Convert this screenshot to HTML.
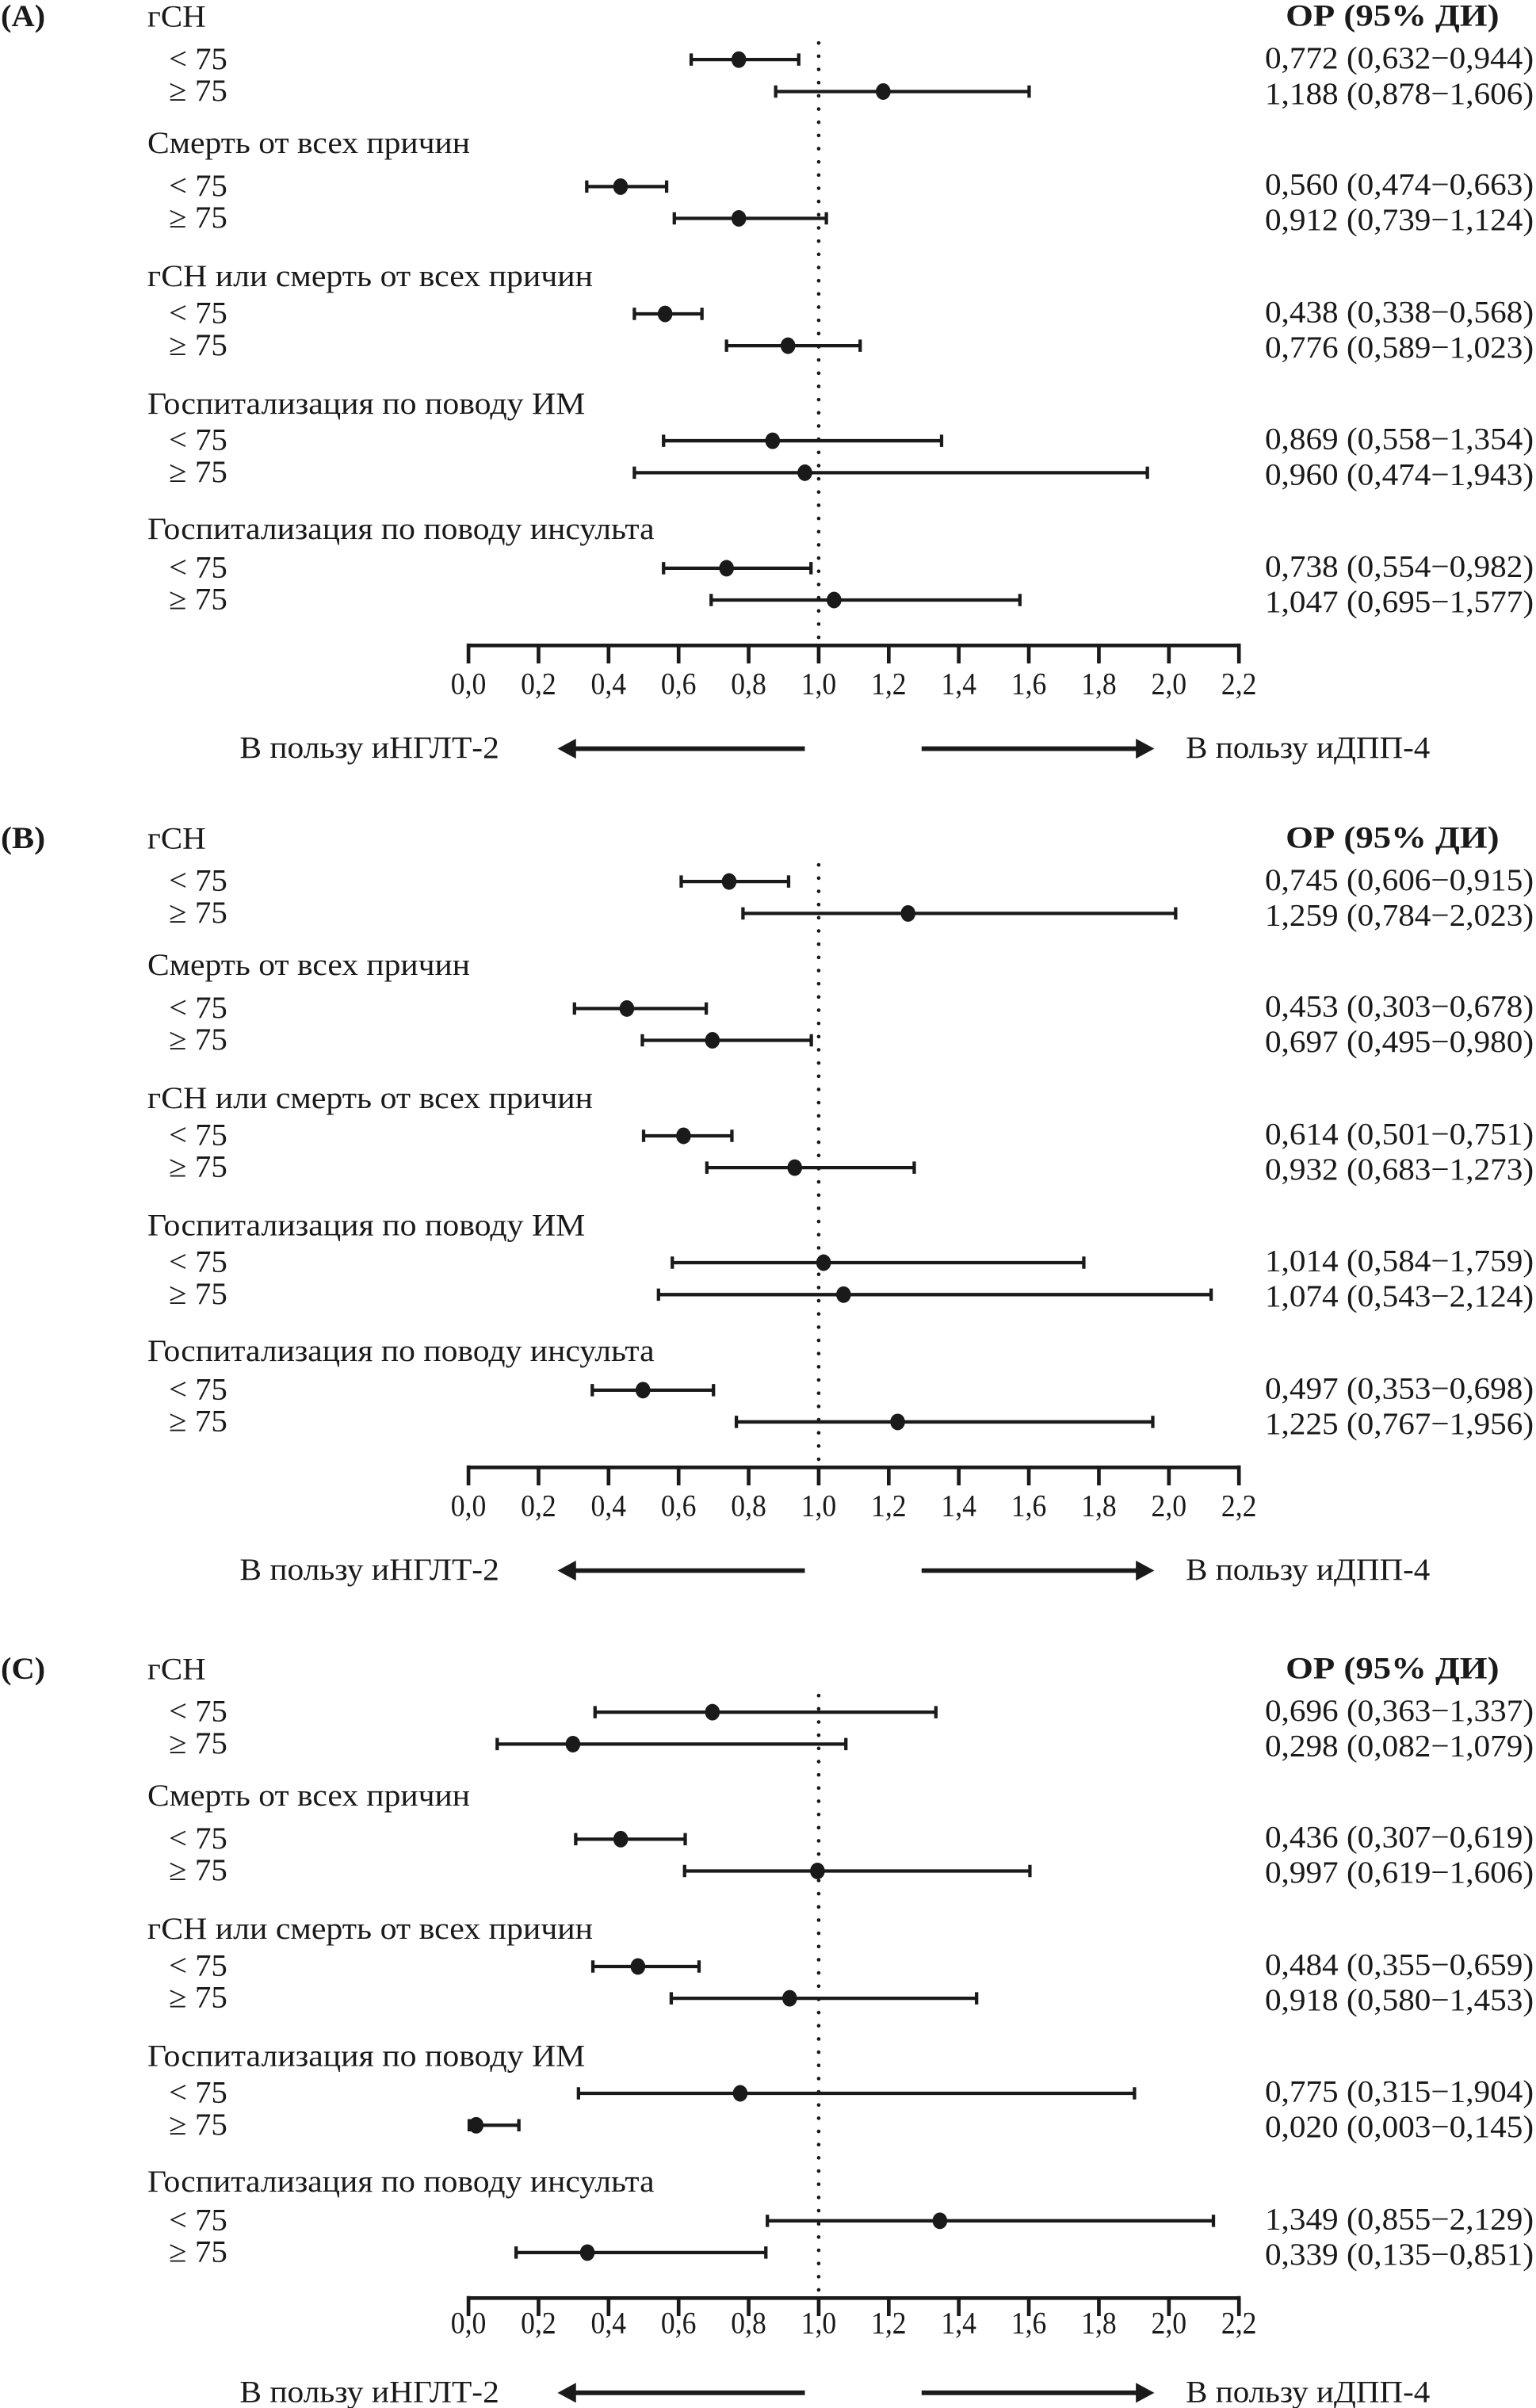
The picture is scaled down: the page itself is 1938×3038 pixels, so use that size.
<!DOCTYPE html>
<html><head><meta charset="utf-8"><style>
html,body{margin:0;padding:0;background:#fff;}
svg{display:block;}
text{font-family:"Liberation Serif","Times New Roman","Noto Serif CJK SC",serif;fill:#1a1a1a;font-size:20px;}
.b{font-weight:bold;}
.ci{stroke:#1a1a1a;stroke-width:2.2;fill:none;}
.ax{stroke:#1a1a1a;stroke-width:2.4;fill:none;}
.dot{fill:#1a1a1a;}
</style></head><body>
<svg width="1938" height="3038" viewBox="0 0 1000 1568" preserveAspectRatio="none" xmlns="http://www.w3.org/2000/svg">
<defs>
<g id="frame">
  <text x="96" y="17.2" textLength="38" lengthAdjust="spacingAndGlyphs">гСН</text>
  <text class="b" x="837" y="16.8" textLength="139" lengthAdjust="spacingAndGlyphs">ОР (95% ДИ)</text>
  <text x="110" y="44.8" textLength="38" lengthAdjust="spacingAndGlyphs">&lt; 75</text>
  <text x="110" y="65.6" textLength="38" lengthAdjust="spacingAndGlyphs">≥ 75</text>
  <text x="96" y="99.6" textLength="210" lengthAdjust="spacingAndGlyphs">Смерть от всех причин</text>
  <text x="110" y="127.5" textLength="38" lengthAdjust="spacingAndGlyphs">&lt; 75</text>
  <text x="110" y="148.2" textLength="38" lengthAdjust="spacingAndGlyphs">≥ 75</text>
  <text x="96" y="186.4" textLength="290" lengthAdjust="spacingAndGlyphs">гСН или смерть от всех причин</text>
  <text x="110" y="210.4" textLength="38" lengthAdjust="spacingAndGlyphs">&lt; 75</text>
  <text x="110" y="231.1" textLength="38" lengthAdjust="spacingAndGlyphs">≥ 75</text>
  <text x="96" y="269.3" textLength="285" lengthAdjust="spacingAndGlyphs">Госпитализация по поводу ИМ</text>
  <text x="110" y="293" textLength="38" lengthAdjust="spacingAndGlyphs">&lt; 75</text>
  <text x="110" y="313.8" textLength="38" lengthAdjust="spacingAndGlyphs">≥ 75</text>
  <text x="96" y="351" textLength="330" lengthAdjust="spacingAndGlyphs">Госпитализация по поводу инсульта</text>
  <text x="110" y="376" textLength="38" lengthAdjust="spacingAndGlyphs">&lt; 75</text>
  <text x="110" y="396.7" textLength="38" lengthAdjust="spacingAndGlyphs">≥ 75</text>
  <line x1="533" y1="28" x2="533" y2="418" stroke="#1a1a1a" stroke-width="2.4" stroke-linecap="round" stroke-dasharray="0 8.6"/>
  <path class="ax" d="M305 420.3 H806.6 M305 419 V432 M350.6 420 V432 M396.2 420 V432 M441.8 420 V432 M487.4 420 V432 M533 420 V432 M578.6 420 V432 M624.2 420 V432 M669.8 420 V432 M715.4 420 V432 M761 420 V432 M806.6 419 V432"/>
</g>
<g id="ticklab">
  <g text-anchor="middle">
  <text x="305" y="452" textLength="23" lengthAdjust="spacingAndGlyphs">0,0</text>
  <text x="350.6" y="452" textLength="23" lengthAdjust="spacingAndGlyphs">0,2</text>
  <text x="396.2" y="452" textLength="23" lengthAdjust="spacingAndGlyphs">0,4</text>
  <text x="441.8" y="452" textLength="23" lengthAdjust="spacingAndGlyphs">0,6</text>
  <text x="487.4" y="452" textLength="23" lengthAdjust="spacingAndGlyphs">0,8</text>
  <text x="533" y="452" textLength="23" lengthAdjust="spacingAndGlyphs">1,0</text>
  <text x="578.6" y="452" textLength="23" lengthAdjust="spacingAndGlyphs">1,2</text>
  <text x="624.2" y="452" textLength="23" lengthAdjust="spacingAndGlyphs">1,4</text>
  <text x="669.8" y="452" textLength="23" lengthAdjust="spacingAndGlyphs">1,6</text>
  <text x="715.4" y="452" textLength="23" lengthAdjust="spacingAndGlyphs">1,8</text>
  <text x="761" y="452" textLength="23" lengthAdjust="spacingAndGlyphs">2,0</text>
  <text x="806.6" y="452" textLength="23" lengthAdjust="spacingAndGlyphs">2,2</text>
  </g>
</g>
<g id="arrows">
  <text x="156" y="493.5" textLength="169" lengthAdjust="spacingAndGlyphs">В пользу иНГЛТ-2</text>
  <text x="772" y="493.5" textLength="159" lengthAdjust="spacingAndGlyphs">В пользу иДПП-4</text>
  <path d="M524 487.5 H372" stroke="#1a1a1a" stroke-width="3"/>
  <path d="M363 487.5 L375 481 L375 494 Z" fill="#1a1a1a"/>
  <path d="M600 487.5 H742" stroke="#1a1a1a" stroke-width="3"/>
  <path d="M751.5 487.5 L739.5 481 L739.5 494 Z" fill="#1a1a1a"/>
</g>
</defs>

<!-- Panel A -->
<g>
  <text class="b" x="0.5" y="17" textLength="29" lengthAdjust="spacingAndGlyphs">(A)</text>
  <use href="#frame"/><use href="#ticklab"/><use href="#arrows"/>
  <g class="ci">
    <path d="M450 38.8H520M450 34.8v8M520 34.8v8"/>
    <path d="M505 59.6H670M505 55.6v8M670 55.6v8"/>
    <path d="M382 121.5H434M382 117.5v8M434 117.5v8"/>
    <path d="M439 142.2H538M439 138.2v8M538 138.2v8"/>
    <path d="M413 204.4H457M413 200.4v8M457 200.4v8"/>
    <path d="M473 225.1H560M473 221.1v8M560 221.1v8"/>
    <path d="M432 287H613M432 283v8M613 283v8"/>
    <path d="M413 307.8H747M413 303.8v8M747 303.8v8"/>
    <path d="M432 370H528M432 366v8M528 366v8"/>
    <path d="M463 390.7H664M463 386.7v8M664 386.7v8"/>
  </g>
  <g class="dot">
    <ellipse cx="481" cy="38.8" rx="4.8" ry="5.4"/>
    <ellipse cx="575" cy="59.6" rx="4.8" ry="5.4"/>
    <ellipse cx="404" cy="121.5" rx="4.8" ry="5.4"/>
    <ellipse cx="481" cy="142.2" rx="4.8" ry="5.4"/>
    <ellipse cx="433" cy="204.4" rx="4.8" ry="5.4"/>
    <ellipse cx="513" cy="225.1" rx="4.8" ry="5.4"/>
    <ellipse cx="503" cy="287" rx="4.8" ry="5.4"/>
    <ellipse cx="524" cy="307.8" rx="4.8" ry="5.4"/>
    <ellipse cx="473" cy="370" rx="4.8" ry="5.4"/>
    <ellipse cx="543" cy="390.7" rx="4.8" ry="5.4"/>
  </g>
  <g text-anchor="end">
    <text x="998.5" y="44.5" textLength="175" lengthAdjust="spacingAndGlyphs">0,772 (0,632−0,944)</text>
    <text x="998.5" y="67.5" textLength="175" lengthAdjust="spacingAndGlyphs">1,188 (0,878−1,606)</text>
    <text x="998.5" y="126.8" textLength="175" lengthAdjust="spacingAndGlyphs">0,560 (0,474−0,663)</text>
    <text x="998.5" y="149.8" textLength="175" lengthAdjust="spacingAndGlyphs">0,912 (0,739−1,124)</text>
    <text x="998.5" y="209.8" textLength="175" lengthAdjust="spacingAndGlyphs">0,438 (0,338−0,568)</text>
    <text x="998.5" y="232.8" textLength="175" lengthAdjust="spacingAndGlyphs">0,776 (0,589−1,023)</text>
    <text x="998.5" y="292.5" textLength="175" lengthAdjust="spacingAndGlyphs">0,869 (0,558−1,354)</text>
    <text x="998.5" y="315.5" textLength="175" lengthAdjust="spacingAndGlyphs">0,960 (0,474−1,943)</text>
    <text x="998.5" y="375.5" textLength="175" lengthAdjust="spacingAndGlyphs">0,738 (0,554−0,982)</text>
    <text x="998.5" y="398.5" textLength="175" lengthAdjust="spacingAndGlyphs">1,047 (0,695−1,577)</text>
  </g>
</g>

<!-- Panel B -->
<g transform="translate(0,535.2)">
  <text class="b" x="0.5" y="17" textLength="29" lengthAdjust="spacingAndGlyphs">(B)</text>
  <use href="#frame"/><use href="#ticklab"/><use href="#arrows"/>
  <g class="ci">
    <path d="M443.5 38.8H513.4M443.5 34.8v8M513.4 34.8v8"/>
    <path d="M483.7 59.6H765.4M483.7 55.6v8M765.4 55.6v8"/>
    <path d="M374 121.5H459.8M374 117.5v8M459.8 117.5v8"/>
    <path d="M418.2 142.2H528.2M418.2 138.2v8M528.2 138.2v8"/>
    <path d="M419 204.4H476.5M419 200.4v8M476.5 200.4v8"/>
    <path d="M460.2 225.1H595.2M460.2 221.1v8M595.2 221.1v8"/>
    <path d="M437.7 287H705.6M437.7 283v8M705.6 283v8"/>
    <path d="M428.7 307.8H788.5M428.7 303.8v8M788.5 303.8v8"/>
    <path d="M385.6 370H464.5M385.6 366v8M464.5 366v8"/>
    <path d="M479.4 390.7H750.5M479.4 386.7v8M750.5 386.7v8"/>
  </g>
  <g class="dot">
    <ellipse cx="474.7" cy="38.8" rx="4.8" ry="5.4"/>
    <ellipse cx="591.2" cy="59.6" rx="4.8" ry="5.4"/>
    <ellipse cx="408.1" cy="121.5" rx="4.8" ry="5.4"/>
    <ellipse cx="463.8" cy="142.2" rx="4.8" ry="5.4"/>
    <ellipse cx="445" cy="204.4" rx="4.8" ry="5.4"/>
    <ellipse cx="517.4" cy="225.1" rx="4.8" ry="5.4"/>
    <ellipse cx="536.2" cy="287" rx="4.8" ry="5.4"/>
    <ellipse cx="549.2" cy="307.8" rx="4.8" ry="5.4"/>
    <ellipse cx="418.6" cy="370" rx="4.8" ry="5.4"/>
    <ellipse cx="584.4" cy="390.7" rx="4.8" ry="5.4"/>
  </g>
  <g text-anchor="end">
    <text x="998.5" y="44.5" textLength="175" lengthAdjust="spacingAndGlyphs">0,745 (0,606−0,915)</text>
    <text x="998.5" y="67.5" textLength="175" lengthAdjust="spacingAndGlyphs">1,259 (0,784−2,023)</text>
    <text x="998.5" y="126.8" textLength="175" lengthAdjust="spacingAndGlyphs">0,453 (0,303−0,678)</text>
    <text x="998.5" y="149.8" textLength="175" lengthAdjust="spacingAndGlyphs">0,697 (0,495−0,980)</text>
    <text x="998.5" y="209.8" textLength="175" lengthAdjust="spacingAndGlyphs">0,614 (0,501−0,751)</text>
    <text x="998.5" y="232.8" textLength="175" lengthAdjust="spacingAndGlyphs">0,932 (0,683−1,273)</text>
    <text x="998.5" y="292.5" textLength="175" lengthAdjust="spacingAndGlyphs">1,014 (0,584−1,759)</text>
    <text x="998.5" y="315.5" textLength="175" lengthAdjust="spacingAndGlyphs">1,074 (0,543−2,124)</text>
    <text x="998.5" y="375.5" textLength="175" lengthAdjust="spacingAndGlyphs">0,497 (0,353−0,698)</text>
    <text x="998.5" y="398.5" textLength="175" lengthAdjust="spacingAndGlyphs">1,225 (0,767−1,956)</text>
  </g>
</g>

<!-- Panel C -->
<g transform="translate(0,1076.1)">
  <text class="b" x="0.5" y="17" textLength="29" lengthAdjust="spacingAndGlyphs">(C)</text>
  <use href="#frame"/>
  <use href="#ticklab" transform="translate(0,-9)"/>
  <use href="#arrows" transform="translate(0,-5.5)"/>
  <g class="ci">
    <path d="M387.4 38.8H609.3M387.4 34.8v8M609.3 34.8v8"/>
    <path d="M323.7 59.6H550.7M323.7 55.6v8M550.7 55.6v8"/>
    <path d="M374.8 121.5H446.1M374.8 117.5v8M446.1 117.5v8"/>
    <path d="M445.7 142.2H670.5M445.7 138.2v8M670.5 138.2v8"/>
    <path d="M386 204.4H455.1M386 200.4v8M455.1 200.4v8"/>
    <path d="M437 225.1H635.8M437 221.1v8M635.8 221.1v8"/>
    <path d="M376.6 287H738.6M376.6 283v8M738.6 283v8"/>
    <path d="M305.5 307.8H337.8M305.5 303.8v8M337.8 303.8v8"/>
    <path d="M499.6 370H790M499.6 366v8M790 366v8"/>
    <path d="M336 390.7H498.6M336 386.7v8M498.6 386.7v8"/>
  </g>
  <g class="dot">
    <ellipse cx="463.8" cy="38.8" rx="4.8" ry="5.4"/>
    <ellipse cx="373" cy="59.6" rx="4.8" ry="5.4"/>
    <ellipse cx="404.1" cy="121.5" rx="4.8" ry="5.4"/>
    <ellipse cx="532.2" cy="142.2" rx="4.8" ry="5.4"/>
    <ellipse cx="415.3" cy="204.4" rx="4.8" ry="5.4"/>
    <ellipse cx="514.1" cy="225.1" rx="4.8" ry="5.4"/>
    <ellipse cx="481.9" cy="287" rx="4.8" ry="5.4"/>
    <ellipse cx="310" cy="307.8" rx="4.8" ry="5.4"/>
    <ellipse cx="611.9" cy="370" rx="4.8" ry="5.4"/>
    <ellipse cx="382.4" cy="390.7" rx="4.8" ry="5.4"/>
  </g>
  <g text-anchor="end">
    <text x="998.5" y="44.5" textLength="175" lengthAdjust="spacingAndGlyphs">0,696 (0,363−1,337)</text>
    <text x="998.5" y="67.5" textLength="175" lengthAdjust="spacingAndGlyphs">0,298 (0,082−1,079)</text>
    <text x="998.5" y="126.8" textLength="175" lengthAdjust="spacingAndGlyphs">0,436 (0,307−0,619)</text>
    <text x="998.5" y="149.8" textLength="175" lengthAdjust="spacingAndGlyphs">0,997 (0,619−1,606)</text>
    <text x="998.5" y="209.8" textLength="175" lengthAdjust="spacingAndGlyphs">0,484 (0,355−0,659)</text>
    <text x="998.5" y="232.8" textLength="175" lengthAdjust="spacingAndGlyphs">0,918 (0,580−1,453)</text>
    <text x="998.5" y="292.5" textLength="175" lengthAdjust="spacingAndGlyphs">0,775 (0,315−1,904)</text>
    <text x="998.5" y="315.5" textLength="175" lengthAdjust="spacingAndGlyphs">0,020 (0,003−0,145)</text>
    <text x="998.5" y="375.5" textLength="175" lengthAdjust="spacingAndGlyphs">1,349 (0,855−2,129)</text>
    <text x="998.5" y="398.5" textLength="175" lengthAdjust="spacingAndGlyphs">0,339 (0,135−0,851)</text>
  </g>
</g>
</svg>
</body></html>
